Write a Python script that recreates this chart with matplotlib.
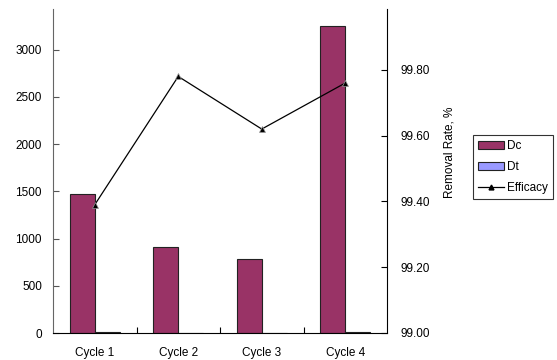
import matplotlib.pyplot as plt
import numpy as np
from matplotlib.patches import Patch
from matplotlib.lines import Line2D

plt.rcParams['font.family'] = ['Liberation Sans', 'DejaVu Sans']
plt.rcParams['font.size'] = 8.5

# Data
cycles = ['Cycle 1', 'Cycle 2', 'Cycle 3', 'Cycle 4']
dc = [1475, 910, 785, 3250]
dt = [15, 3, 3, 15]
efficacy = [99.39, 99.78, 99.62, 99.76]

x = np.arange(len(cycles))
w = 0.3

fig = plt.figure(figsize=(5.57, 3.6), dpi=100)
ax = fig.add_axes([53/557, 1-333/360, (387-53)/557, (333-9)/360])
ax.bar(x - w/2, dc, w, color='#993366', edgecolor='#222222', linewidth=0.8, label='Dc')
ax.bar(x + w/2, dt, w, color='#9999FF', edgecolor='#222222', linewidth=0.8, label='Dt')
ax.set_xlim(-0.5, 3.5)
ax.set_ylim(0, 3430)
ax.set_yticks([0, 500, 1000, 1500, 2000, 2500, 3000])
ax.set_xticks(x)
ax.set_xticklabels(cycles)
ax.set_xticks([0.5, 1.5, 2.5], minor=True)
ax.tick_params(axis='x', which='major', length=0, pad=10)
ax.tick_params(axis='x', which='minor', direction='in', length=4, width=0.8)
ax.tick_params(axis='y', direction='in', length=4, width=0.8, pad=8, color='#555555')
ax.spines['top'].set_visible(False)
ax.spines['right'].set_visible(False)
ax.spines['left'].set_color('#666666')
ax.spines['bottom'].set_color('black')

ax2 = ax.twinx()
ax2.plot(x, efficacy, color='black', linewidth=0.9, marker='^', markersize=4,
         markerfacecolor='black', markeredgecolor='#999999', markeredgewidth=0.5)
ax2.set_ylim(99.0, 99.985)
ax2.set_yticks([99.0, 99.2, 99.4, 99.6, 99.8])
ax2.set_yticklabels(['%.2f' % v for v in [99.0, 99.2, 99.4, 99.6, 99.8]])
ax2.tick_params(axis='y', direction='in', length=4, width=0.8, pad=10)
for s in ['top', 'left', 'bottom']:
    ax2.spines[s].set_visible(False)
ax2.spines['right'].set_color('black')

fig.text(450/557, 1-152/360, 'Removal Rate, %', rotation=90, ha='center', va='center')

handles = [Patch(facecolor='#993366', edgecolor='#222222', linewidth=0.8),
           Patch(facecolor='#9999FF', edgecolor='#222222', linewidth=0.8),
           Line2D([], [], color='black', linewidth=0.9, marker='^', markersize=3.5,
                  markerfacecolor='black')]
leg = fig.legend(handles, ['Dc', 'Dt', 'Efficacy'], loc='upper left',
                 bbox_to_anchor=(473/557, 1-135/360), frameon=True, fancybox=False,
                 edgecolor='black', handlelength=2.2, handletextpad=0.2,
                 borderpad=0.45, labelspacing=0.75, borderaxespad=0)
leg.get_frame().set_linewidth(0.8)

fig.savefig('out.png', dpi=100)
